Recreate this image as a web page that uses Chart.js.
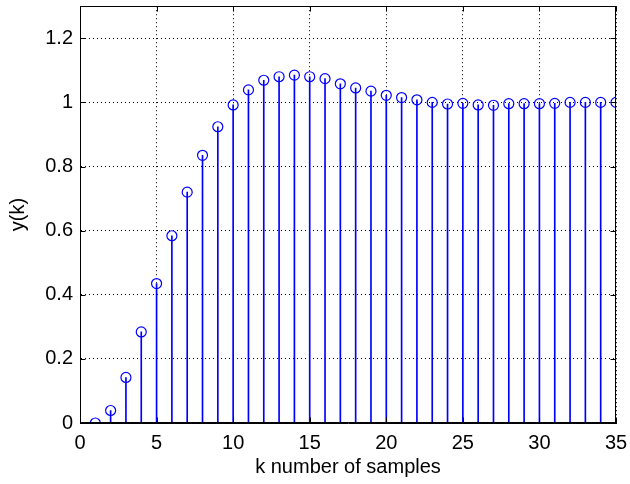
<!DOCTYPE html>
<html>
<head>
<meta charset="utf-8">
<title>Step response</title>
<script src="https://cdn.jsdelivr.net/npm/chart.js@4/dist/chart.umd.min.js"></script>
<style>
  html, body { margin: 0; padding: 0; background: #fff; }
  canvas { display: block; }
</style>
</head>
<body>
<canvas id="stemChart" width="630" height="484"></canvas>
<script>
// sample index k and response y(k)
const samples = [1, 2, 3, 4, 5, 6, 7, 8, 9, 10, 11, 12, 13, 14, 15, 16, 17, 18,
  19, 20, 21, 22, 23, 24, 25, 26, 27, 28, 29, 30, 31, 32, 33, 34, 35];
const response = [0, 0.039, 0.142, 0.284, 0.435, 0.584, 0.72, 0.835, 0.924, 0.992,
  1.039, 1.069, 1.080, 1.085, 1.080, 1.074, 1.058, 1.045, 1.035, 1.022, 1.015,
  1.008, 1.0, 0.995, 0.997, 0.992, 0.991, 0.996, 0.996, 0.996, 0.997, 1.0, 1.0,
  1.0, 1.0];

const xTicks = [0, 5, 10, 15, 20, 25, 30, 35];
const xTickLabels = ["0", "5", "10", "15", "20", "25", "30", "35"];
const yTicks = [0, 0.2, 0.4, 0.6, 0.8, 1, 1.2];
const yTickLabels = ["0", "0.2", "0.4", "0.6", "0.8", "1", "1.2"];

const BLUE = "rgb(0,0,255)";
const FONT = { family: "'Liberation Sans', Arial, sans-serif", size: 20 };

const points = samples.map((k, i) => ({ x: k, y: response[i] }));

// box around the plot area plus inward tick marks on all four sides
const boxPlugin = {
  id: "matlabBox",
  afterDraw(chart) {
    const { ctx, chartArea: a, scales } = chart;
    const l = Math.round(a.left) + 0.5, r = Math.round(a.right) - 0.5;
    const t = Math.round(a.top) + 0.5, b = Math.round(a.bottom) - 0.5;
    ctx.save();
    ctx.strokeStyle = "#000";
    ctx.lineWidth = 1;
    ctx.strokeRect(l, t, r - l, b - t);
    ctx.beginPath();
    const len = 5;
    scales.x.ticks.forEach(tk => {
      const px = Math.round(scales.x.getPixelForValue(tk.value)) + 0.5;
      ctx.moveTo(px, b); ctx.lineTo(px, b - len);
      ctx.moveTo(px, t); ctx.lineTo(px, t + len);
    });
    scales.y.ticks.forEach(tk => {
      const py = Math.round(scales.y.getPixelForValue(tk.value)) + 0.5;
      ctx.moveTo(l, py); ctx.lineTo(l + len, py);
      ctx.moveTo(r, py); ctx.lineTo(r - len, py);
    });
    ctx.stroke();
    ctx.restore();
  }
};

new Chart(document.getElementById("stemChart"), {
  type: "bar",
  data: {
    datasets: [
      {
        label: "stems",
        data: points,
        backgroundColor: BLUE,
        borderWidth: 0,
        barThickness: 1,
        grouped: false,
        order: 2
      },
      {
        type: "scatter",
        label: "y(k)",
        data: points,
        pointStyle: "circle",
        pointRadius: 5,
        pointBorderWidth: 1.2,
        pointBorderColor: BLUE,
        pointBackgroundColor: "rgba(0,0,0,0)",
        showLine: false,
        order: 1
      }
    ]
  },
  options: {
    responsive: false,
    animation: false,
    devicePixelRatio: 1,
    layout: { padding: { left: 0, top: 5, right: 14, bottom: 0 } },
    plugins: {
      legend: { display: false },
      tooltip: { enabled: false }
    },
    scales: {
      x: {
        type: "linear",
        min: 0,
        max: 35,
        offset: false,
        afterBuildTicks: s => { s.ticks = xTicks.map(v => ({ value: v })); },
        afterFit: s => { s.height = 61; s.paddingLeft = 0; s.paddingRight = 0; },
        grid: { color: "#000", lineWidth: 1, drawTicks: false, offset: false },
        border: { display: true, color: "#000", dash: [1, 3] },
        ticks: {
          color: "#000",
          font: FONT,
          padding: 8,
          maxRotation: 0,
          callback: (v, i) => xTickLabels[i]
        },
        title: {
          display: true,
          text: "k number of samples",
          color: "#000",
          font: FONT,
          padding: { top: 0, bottom: 5 }
        }
      },
      y: {
        type: "linear",
        min: 0,
        max: 1.3,
        afterBuildTicks: s => { s.ticks = yTicks.map(v => ({ value: v })); },
        afterFit: s => { s.width = 80; s.paddingTop = 0; s.paddingBottom = 0; },
        grid: { color: "#000", lineWidth: 1, drawTicks: false },
        border: { display: true, color: "#000", dash: [1, 3] },
        ticks: {
          color: "#000",
          font: FONT,
          padding: 7,
          callback: (v, i) => yTickLabels[i]
        },
        title: {
          display: true,
          text: "y(k)",
          color: "#000",
          font: FONT,
          padding: { top: 6, bottom: 0 }
        }
      }
    }
  },
  plugins: [boxPlugin]
});
</script>
</body>
</html>
